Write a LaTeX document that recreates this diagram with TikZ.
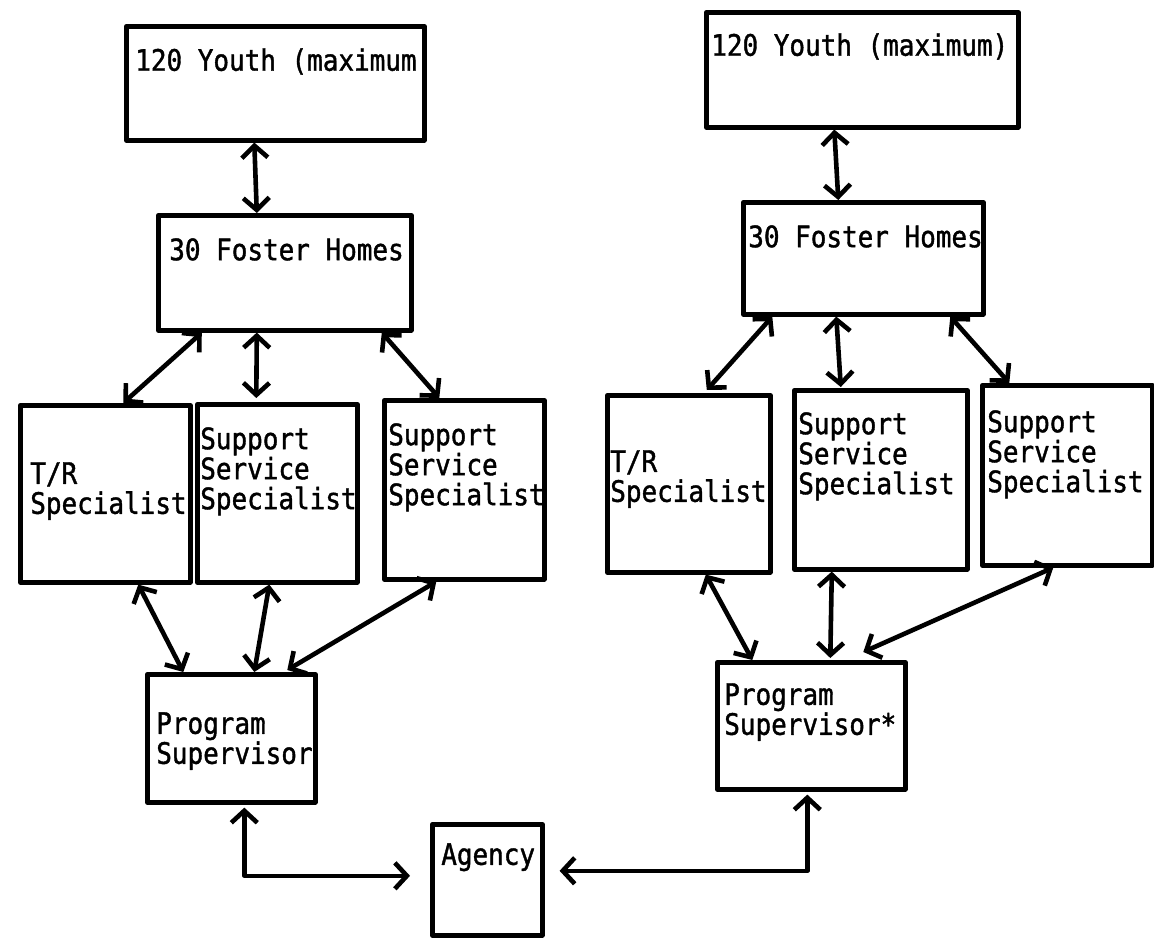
\documentclass[tikz,border=0pt]{standalone}
\usepackage{fontspec}
\setmonofont[FakeStretch=0.88, FakeBold=1.3]{DejaVu Sans Mono}
\usetikzlibrary{arrows.meta}

\begin{document}
\begin{tikzpicture}[x=1pt, y=-1pt, <->, >={Straight Barb[length=12pt,width=26pt]},
  line width=4.6pt, line join=round,
  box/.style={rectangle, draw, anchor=north west, inner sep=0pt},
  lbl/.style={anchor=north west, inner sep=0pt, align=left,
    font=\ttfamily\fontsize{29.5}{30}\selectfont}]
  \useasboundingbox (0,0) rectangle (1154,939);

  % left branch
  \node[box, minimum width=298pt, minimum height=114pt,
    label={[lbl, xshift=9pt, yshift=-22pt]north west:120 Youth (maximum}] (youthL) at (124,24) {};
  \node[box, minimum width=253pt, minimum height=115pt,
    label={[lbl, xshift=11pt, yshift=-23pt]north west:30 Foster Homes}] (fosterL) at (156,213) {};
  \node[box, minimum width=170pt, minimum height=177pt,
    label={[lbl, xshift=10pt, yshift=-57pt]north west:T/R\\Specialist}] (trL) at (18,403) {};
  \node[box, minimum width=160pt, minimum height=178pt,
    label={[lbl, xshift=3pt, yshift=-23pt]north west:Support\\Service\\Specialist}] (ssL1) at (195,402) {};
  \node[box, minimum width=160pt, minimum height=179pt,
    label={[lbl, xshift=4pt, yshift=-23pt]north west:Support\\Service\\Specialist}] (ssL2) at (382,398) {};
  \node[box, minimum width=168pt, minimum height=128pt,
    label={[lbl, xshift=9pt, yshift=-38pt]north west:Program\\Supervisor}] (psL) at (145,672) {};

  % agency
  \node[box, minimum width=110pt, minimum height=111pt,
    label={[lbl, xshift=9pt, yshift=-19pt]north west:Agency}] (agency) at (430,822) {};

  % right branch
  \node[box, minimum width=312pt, minimum height=115pt,
    label={[lbl, xshift=5pt, yshift=-21pt]north west:120 Youth (maximum)}] (youthR) at (704,10) {};
  \node[box, minimum width=240pt, minimum height=112pt,
    label={[lbl, xshift=5pt, yshift=-23pt]north west:30 Foster Homes}] (fosterR) at (741,200) {};
  \node[box, minimum width=163pt, minimum height=177pt,
    label={[lbl, xshift=3pt, yshift=-55pt]north west:T/R\\Specialist}] (trR) at (605,393) {};
  \node[box, minimum width=173pt, minimum height=179pt,
    label={[lbl, xshift=4pt, yshift=-22pt]north west:Support\\Service\\Specialist}] (ssR1) at (792,388) {};
  \node[box, minimum width=170pt, minimum height=180pt,
    label={[lbl, xshift=5pt, yshift=-25pt]north west:Support\\Service\\Specialist}] (ssR2) at (980,383) {};
  \node[box, minimum width=188pt, minimum height=127pt,
    label={[lbl, xshift=7pt, yshift=-21pt]north west:Program\\Supervisor*}] (psR) at (715,660) {};

  \path ([xshift=-21pt]youthL.south) edge ([xshift=-28pt]fosterL.north)
        ([xshift=-83pt]fosterL.south) edge ([xshift=18pt]trL.north)
        ([xshift=-28pt]fosterL.south) edge ([xshift=-21pt, yshift=4pt]ssL1.north)
        ([xshift=97pt]fosterL.south) edge ([xshift=-25pt]ssL2.north)
        ([xshift=33pt]trL.south) edge ([xshift=-48pt]psL.north)
        ([xshift=-8pt]ssL1.south) edge ([xshift=23pt]psL.north)
        ([xshift=-28pt]ssL2.south) edge ([xshift=56pt, yshift=2pt]psL.north);

  \path ([xshift=-28pt]youthR.south) edge ([xshift=-25pt]fosterR.north)
        ([xshift=-91pt]fosterR.south) edge ([xshift=18pt, yshift=3pt]trR.north)
        ([xshift=-27pt]fosterR.south) edge ([xshift=-40pt, yshift=1pt]ssR1.north)
        ([xshift=87pt]fosterR.south) edge ([xshift=-58pt]ssR2.north)
        ([xshift=17pt]trR.south) edge ([xshift=-59pt]psR.north)
        ([xshift=-49pt]ssR1.south) edge ([xshift=19pt, yshift=2pt]psR.north)
        ([xshift=-14pt]ssR2.south) edge ([xshift=52pt, yshift=8pt]psR.north);

  \draw[shorten >=20pt] ([xshift=13pt, yshift=-3pt]psL.south) |- ([yshift=4pt]agency.west);
  \draw[shorten >=15pt] ([xshift=-4pt, yshift=-3pt]psR.south) |- ([yshift=9pt]agency.east);
\end{tikzpicture}
\end{document}
